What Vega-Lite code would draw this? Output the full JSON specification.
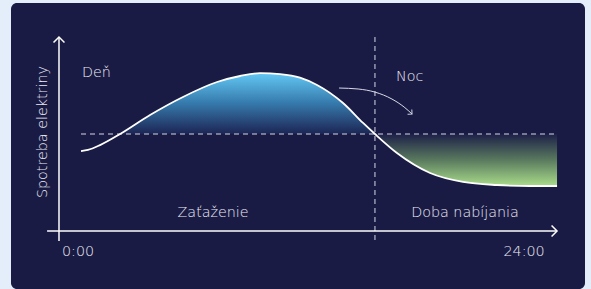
{
  "$schema": "https://vega.github.io/schema/vega-lite/v6.json",
  "width": 574,
  "height": 286,
  "padding": {"left": 11, "top": 3, "right": 6, "bottom": 0},
  "autosize": {"type": "none"},
  "background": "#e3eefa",
  "config": {
    "view": {"fill": "#1a1b45", "stroke": null, "cornerRadius": 6},
    "text": {"font": "DejaVu Sans", "fontWeight": 300, "fontSize": 14.3, "color": "#ebebf4"}
  },
  "datasets": {
    "one": [{"k": 1}],
    "curve": [
      {"h": 0, "v": 41.2}, {"h": 0.35, "v": 41.8}, {"h": 0.96, "v": 44.3},
      {"h": 1.97, "v": 50}, {"h": 3.48, "v": 59.8}, {"h": 5.14, "v": 69.1},
      {"h": 6.86, "v": 76.8}, {"h": 8.02, "v": 79.9}, {"h": 9.03, "v": 81.4},
      {"h": 10.04, "v": 80.9}, {"h": 11.04, "v": 79.1}, {"h": 11.9, "v": 75.3},
      {"h": 13.21, "v": 66}, {"h": 14.22, "v": 55.7}, {"h": 14.82, "v": 50},
      {"h": 15.93, "v": 40.2}, {"h": 17.6, "v": 29.9}, {"h": 19.26, "v": 25.3},
      {"h": 20.97, "v": 23.7}, {"h": 22.64, "v": 23.2}, {"h": 24, "v": 23.2}
    ],
    "arrow": [
      {"h": 13.01, "v": 73.7}, {"h": 13.97, "v": 73.2}, {"h": 14.82, "v": 71.6},
      {"h": 15.68, "v": 68.0}, {"h": 16.29, "v": 63.9}, {"h": 16.69, "v": 60.3}
    ],
    "leftLabels": [
      {"h": 0.05, "v": 81.4, "t": "Deň"},
      {"h": 15.88, "v": 79.4, "t": "Noc"}
    ],
    "centerLabels": [
      {"h": 6.66, "v": 9.3, "t": "Zaťaženie"},
      {"h": 19.36, "v": 9.3, "t": "Doba nabíjania"},
      {"h": -0.15, "v": -10.8, "t": "0:00"},
      {"h": 22.34, "v": -10.8, "t": "24:00"}
    ]
  },
  "layer": [
    {
      "data": {"name": "curve"},
      "transform": [{"filter": "datum.h >= 1.97 && datum.h <= 14.82"}],
      "mark": {
        "type": "area",
        "interpolate": "monotone",
        "color": {
          "gradient": "linear", "x1": 0, "y1": 0, "x2": 0, "y2": 1,
          "stops": [
            {"offset": 0, "color": "#63c8f4"},
            {"offset": 0.5, "color": "#3579ab"},
            {"offset": 1, "color": "#1c2554"}
          ]
        }
      },
      "encoding": {
        "x": {"field": "h", "type": "quantitative", "scale": {"domain": [-3.53, 25.41], "nice": false, "zero": false}, "axis": null},
        "y": {"field": "v", "type": "quantitative", "scale": {"domain": [-29.9, 117.53], "nice": false, "zero": false}, "axis": null},
        "y2": {"datum": 50}
      }
    },
    {
      "data": {"name": "curve"},
      "transform": [{"filter": "datum.h >= 14.82"}],
      "mark": {
        "type": "area",
        "interpolate": "monotone",
        "color": {
          "gradient": "linear", "x1": 0, "y1": 0, "x2": 0, "y2": 1,
          "stops": [
            {"offset": 0, "color": "#1d2048"},
            {"offset": 0.5, "color": "#5a7a5e"},
            {"offset": 1, "color": "#a9dc8a"}
          ]
        }
      },
      "encoding": {
        "x": {"field": "h", "type": "quantitative", "scale": {"domain": [-3.53, 25.41], "nice": false, "zero": false}, "axis": null},
        "y": {"field": "v", "type": "quantitative", "scale": {"domain": [-29.9, 117.53], "nice": false, "zero": false}, "axis": null},
        "y2": {"datum": 50}
      }
    },
    {
      "data": {"name": "one"},
      "mark": {"type": "rule", "color": "#d6d7e6", "strokeDash": [5, 4], "strokeWidth": 1},
      "encoding": {
        "x": {"datum": 0, "scale": {"domain": [-3.53, 25.41], "nice": false, "zero": false}, "axis": null},
        "x2": {"datum": 24},
        "y": {"datum": 50, "scale": {"domain": [-29.9, 117.53], "nice": false, "zero": false}, "axis": null}
      }
    },
    {
      "data": {"name": "one"},
      "mark": {"type": "rule", "color": "#d6d7e6", "strokeDash": [5, 4], "strokeWidth": 1},
      "encoding": {
        "x": {"datum": 14.82, "scale": {"domain": [-3.53, 25.41], "nice": false, "zero": false}, "axis": null},
        "y": {"datum": 100, "scale": {"domain": [-29.9, 117.53], "nice": false, "zero": false}, "axis": null},
        "y2": {"datum": -5.7}
      }
    },
    {
      "data": {"name": "curve"},
      "mark": {"type": "line", "interpolate": "monotone", "color": "#ffffff", "strokeWidth": 1.8},
      "encoding": {
        "x": {"field": "h", "type": "quantitative", "scale": {"domain": [-3.53, 25.41], "nice": false, "zero": false}, "axis": null},
        "y": {"field": "v", "type": "quantitative", "scale": {"domain": [-29.9, 117.53], "nice": false, "zero": false}, "axis": null}
      }
    },
    {
      "data": {"name": "arrow"},
      "mark": {"type": "line", "interpolate": "monotone", "color": "#d8d9e6", "strokeWidth": 1},
      "encoding": {
        "x": {"field": "h", "type": "quantitative", "scale": {"domain": [-3.53, 25.41], "nice": false, "zero": false}, "axis": null},
        "y": {"field": "v", "type": "quantitative", "scale": {"domain": [-29.9, 117.53], "nice": false, "zero": false}, "axis": null}
      }
    },
    {
      "data": {"name": "one"},
      "mark": {"type": "point", "shape": "M-1,-1L0,0L-1,1", "filled": false, "color": "#d8d9e6", "strokeWidth": 1, "size": 40, "angle": 42, "opacity": 1},
      "encoding": {
        "x": {"datum": 16.69, "scale": {"domain": [-3.53, 25.41], "nice": false, "zero": false}, "axis": null},
        "y": {"datum": 60.3, "scale": {"domain": [-29.9, 117.53], "nice": false, "zero": false}, "axis": null}
      }
    },
    {
      "data": {"name": "one"},
      "mark": {"type": "rule", "color": "#ffffff", "strokeWidth": 1.5},
      "encoding": {
        "x": {"datum": -1.11, "scale": {"domain": [-3.53, 25.41], "nice": false, "zero": false}, "axis": null},
        "y": {"datum": 100, "scale": {"domain": [-29.9, 117.53], "nice": false, "zero": false}, "axis": null},
        "y2": {"datum": -5.2}
      }
    },
    {
      "data": {"name": "one"},
      "mark": {"type": "rule", "color": "#ffffff", "strokeWidth": 1.5},
      "encoding": {
        "x": {"datum": -1.71, "scale": {"domain": [-3.53, 25.41], "nice": false, "zero": false}, "axis": null},
        "x2": {"datum": 24},
        "y": {"datum": 0, "scale": {"domain": [-29.9, 117.53], "nice": false, "zero": false}, "axis": null}
      }
    },
    {
      "data": {"name": "one"},
      "mark": {"type": "point", "shape": "M-1,-1L0,0L-1,1", "filled": false, "color": "#ffffff", "strokeWidth": 1.5, "size": 120, "opacity": 1},
      "encoding": {
        "x": {"datum": 24, "scale": {"domain": [-3.53, 25.41], "nice": false, "zero": false}, "axis": null},
        "y": {"datum": 0, "scale": {"domain": [-29.9, 117.53], "nice": false, "zero": false}, "axis": null}
      }
    },
    {
      "data": {"name": "one"},
      "mark": {"type": "point", "shape": "M-1,1L0,0L1,1", "filled": false, "color": "#ffffff", "strokeWidth": 1.5, "size": 120, "opacity": 1},
      "encoding": {
        "x": {"datum": -1.11, "scale": {"domain": [-3.53, 25.41], "nice": false, "zero": false}, "axis": null},
        "y": {"datum": 100, "scale": {"domain": [-29.9, 117.53], "nice": false, "zero": false}, "axis": null}
      }
    },
    {
      "data": {"name": "leftLabels"},
      "mark": {"type": "text", "baseline": "middle", "align": "left"},
      "encoding": {
        "x": {"field": "h", "type": "quantitative", "scale": {"domain": [-3.53, 25.41], "nice": false, "zero": false}, "axis": null},
        "y": {"field": "v", "type": "quantitative", "scale": {"domain": [-29.9, 117.53], "nice": false, "zero": false}, "axis": null},
        "text": {"field": "t"}
      }
    },
    {
      "data": {"name": "centerLabels"},
      "mark": {"type": "text", "baseline": "middle", "align": "center"},
      "encoding": {
        "x": {"field": "h", "type": "quantitative", "scale": {"domain": [-3.53, 25.41], "nice": false, "zero": false}, "axis": null},
        "y": {"field": "v", "type": "quantitative", "scale": {"domain": [-29.9, 117.53], "nice": false, "zero": false}, "axis": null},
        "text": {"field": "t"}
      }
    },
    {
      "data": {"name": "one"},
      "mark": {"type": "text", "angle": 270, "align": "center", "baseline": "middle"},
      "encoding": {
        "x": {"datum": -1.92, "scale": {"domain": [-3.53, 25.41], "nice": false, "zero": false}, "axis": null},
        "y": {"datum": 51, "scale": {"domain": [-29.9, 117.53], "nice": false, "zero": false}, "axis": null},
        "text": {"value": "Spotreba elektriny"}
      }
    }
  ]
}
